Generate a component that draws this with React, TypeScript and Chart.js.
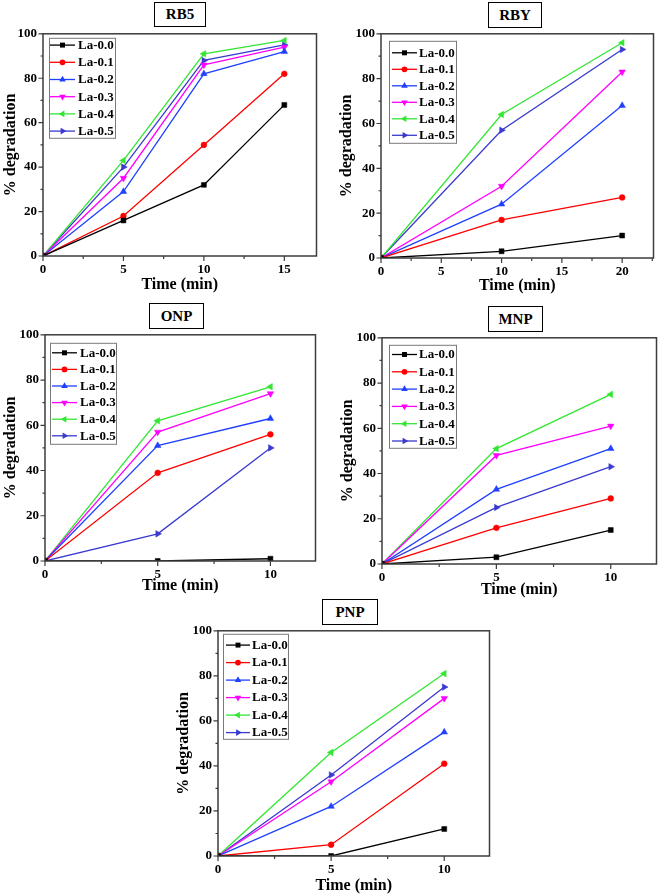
import React, { useEffect, useRef } from 'react';
import { Chart, registerables } from 'chart.js';

Chart.register(...registerables);

const FONT = "'Liberation Serif', 'Times New Roman', serif";

// ---------- data ----------
const seriesNames = ['La-0.0', 'La-0.1', 'La-0.2', 'La-0.3', 'La-0.4', 'La-0.5'];
const yTicks = [0, 20, 40, 60, 80, 100];

// RB5
const rb5Time = [0, 5, 10, 15];
const rb5XTicks = [0, 5, 10, 15];
const rb5La00 = [0, 16, 32, 68];
const rb5La01 = [0, 18, 50, 82];
const rb5La02 = [0, 29, 82, 92];
const rb5La03 = [0, 35, 86, 94];
const rb5La04 = [0, 43, 91, 97];
const rb5La05 = [0, 40, 88, 95];

// RBY
const rbyTime = [0, 10, 20];
const rbyXTicks = [0, 5, 10, 15, 20];
const rbyLa00 = [0, 3, 10];
const rbyLa01 = [0, 17, 27];
const rbyLa02 = [0, 24, 68];
const rbyLa03 = [0, 32, 83];
const rbyLa04 = [0, 64, 96];
const rbyLa05 = [0, 57, 93];

// ONP
const onpTime = [0, 5, 10];
const onpXTicks = [0, 5, 10];
const onpLa00 = [0, 0, 1];
const onpLa01 = [0, 39, 56];
const onpLa02 = [0, 51, 63];
const onpLa03 = [0, 57, 74];
const onpLa04 = [0, 62, 77];
const onpLa05 = [0, 12, 50];

// MNP
const mnpTime = [0, 5, 10];
const mnpXTicks = [0, 5, 10];
const mnpLa00 = [0, 3, 15];
const mnpLa01 = [0, 16, 29];
const mnpLa02 = [0, 33, 51];
const mnpLa03 = [0, 48, 61];
const mnpLa04 = [0, 51, 75];
const mnpLa05 = [0, 25, 43];

// PNP
const pnpTime = [0, 5, 10];
const pnpXTicks = [0, 5, 10];
const pnpLa00 = [0, 0, 12];
const pnpLa01 = [0, 5, 41];
const pnpLa02 = [0, 22, 55];
const pnpLa03 = [0, 33, 70];
const pnpLa04 = [0, 46, 81];
const pnpLa05 = [0, 36, 75];

// ---------- styles ----------
const seriesColors = ['#000000', '#FF0000', '#2040FF', '#FF00FF', '#33E633', '#3A3AD0'];
const seriesMarkers = [
  { style: 'rect', rotation: 0, radius: 3.5 },
  { style: 'circle', rotation: 0, radius: 2.9 },
  { style: 'triangle', rotation: 0, radius: 3.8 },
  { style: 'triangle', rotation: 180, radius: 3.8 },
  { style: 'triangle', rotation: 270, radius: 3.8 },
  { style: 'triangle', rotation: 90, radius: 3.8 },
];
const AXIS_COLOR = '#3c3c3c';

type LegendCfg = { x: number; y: number; w: number; h: number; row0: number; dy: number; l0: number; l1: number; tx: number };
type PanelCfg = {
  key: string;
  title: string;
  titleBox: { x: number; y: number; w: number; h: number };
  area: { L: number; T: number; R: number; B: number };
  yw: number;
  xh: number;
  xMax: number;
  xTicks: number[];
  time: number[];
  series: number[][];
  legend: LegendCfg;
};

const PAD_TOP = 8;
const PAD_RIGHT = 3;

const panels: PanelCfg[] = [
  {
    key: 'rb5', title: 'RB5', titleBox: { x: 154, y: 2, w: 52, h: 25 },
    area: { L: 43, T: 32, R: 318, B: 256 }, yw: 42, xh: 38, xMax: 17,
    xTicks: rb5XTicks, time: rb5Time,
    series: [rb5La00, rb5La01, rb5La02, rb5La03, rb5La04, rb5La05],
    legend: { x: 6, y: 4, w: 66, h: 100, row0: 11.3, dy: 17.2, l0: 7, l1: 32, tx: 35 },
  },
  {
    key: 'rby', title: 'RBY', titleBox: { x: 488, y: 2, w: 54, h: 26 },
    area: { L: 381, T: 32, R: 655, B: 258 }, yw: 44, xh: 37, xMax: 22.6,
    xTicks: rbyXTicks, time: rbyTime,
    series: [rbyLa00, rbyLa01, rbyLa02, rbyLa03, rbyLa04, rbyLa05],
    legend: { x: 8, y: 7, w: 67, h: 102, row0: 19, dy: 16.5, l0: 11, l1: 36, tx: 38 },
  },
  {
    key: 'onp', title: 'ONP', titleBox: { x: 149, y: 303, w: 55, h: 26 },
    area: { L: 45, T: 333, R: 317, B: 561 }, yw: 44, xh: 34, xMax: 12,
    xTicks: onpXTicks, time: onpTime,
    series: [onpLa00, onpLa01, onpLa02, onpLa03, onpLa04, onpLa05],
    legend: { x: 5, y: 8, w: 66, h: 101, row0: 18, dy: 16.6, l0: 7, l1: 32, tx: 35 },
  },
  {
    key: 'mnp', title: 'MNP', titleBox: { x: 488, y: 306, w: 55, h: 26 },
    area: { L: 382, T: 336, R: 658, B: 564 }, yw: 44, xh: 35, xMax: 12,
    xTicks: mnpXTicks, time: mnpTime,
    series: [mnpLa00, mnpLa01, mnpLa02, mnpLa03, mnpLa04, mnpLa05],
    legend: { x: 7, y: 7, w: 67, h: 103, row0: 16.7, dy: 17.3, l0: 10, l1: 35, tx: 37 },
  },
  {
    key: 'pnp', title: 'PNP', titleBox: { x: 322, y: 599, w: 56, h: 26 },
    area: { L: 218, T: 629, R: 491, B: 856 }, yw: 44, xh: 39, xMax: 12,
    xTicks: pnpXTicks, time: pnpTime,
    series: [pnpLa00, pnpLa01, pnpLa02, pnpLa03, pnpLa04, pnpLa05],
    legend: { x: 5, y: 3, w: 65, h: 105, row0: 14.3, dy: 17.5, l0: 8, l1: 32, tx: 34 },
  },
];

function drawMarker(ctx: CanvasRenderingContext2D, style: string, rotationDeg: number, radius: number, x: number, y: number) {
  const rad = (rotationDeg * Math.PI) / 180;
  ctx.beginPath();
  if (style === 'circle') {
    ctx.arc(x, y, radius, 0, Math.PI * 2);
  } else if (style === 'rect') {
    const s = Math.SQRT1_2 * radius;
    ctx.rect(x - s, y - s, 2 * s, 2 * s);
  } else {
    let r = rad;
    const third = (2 * Math.PI) / 3;
    ctx.moveTo(x + Math.sin(r) * radius, y - Math.cos(r) * radius);
    r += third;
    ctx.lineTo(x + Math.sin(r) * radius, y - Math.cos(r) * radius);
    r += third;
    ctx.lineTo(x + Math.sin(r) * radius, y - Math.cos(r) * radius);
    ctx.closePath();
  }
  ctx.fill();
}

function midpoints(ticks: number[], max: number): number[] {
  const out: number[] = [];
  for (let i = 0; i < ticks.length; i++) {
    const step = i < ticks.length - 1 ? ticks[i + 1] - ticks[i] : ticks[i] - ticks[i - 1];
    const m = ticks[i] + step / 2;
    if (m <= max) out.push(m);
  }
  return out;
}

function makeFramePlugin(cfg: PanelCfg) {
  return {
    id: 'frame_' + cfg.key,
    afterDraw(chart: any) {
      const ctx: CanvasRenderingContext2D = chart.ctx;
      const { left, top, right, bottom } = chart.chartArea;
      const xs = chart.scales.x;
      const ys = chart.scales.y;
      ctx.save();
      ctx.strokeStyle = AXIS_COLOR;
      ctx.lineWidth = 1.5;
      ctx.strokeRect(left, top, right - left, bottom - top);
      ctx.lineWidth = 1.2;
      ctx.beginPath();
      cfg.xTicks.forEach((v) => {
        const p = xs.getPixelForValue(v);
        ctx.moveTo(p, bottom);
        ctx.lineTo(p, bottom + 5);
      });
      midpoints(cfg.xTicks, cfg.xMax).forEach((v) => {
        const p = xs.getPixelForValue(v);
        ctx.moveTo(p, bottom);
        ctx.lineTo(p, bottom + 3);
      });
      yTicks.forEach((v) => {
        const p = ys.getPixelForValue(v);
        ctx.moveTo(left, p);
        ctx.lineTo(left - 4.5, p);
      });
      midpoints(yTicks, 100).forEach((v) => {
        const p = ys.getPixelForValue(v);
        ctx.moveTo(left, p);
        ctx.lineTo(left - 2.5, p);
      });
      ctx.stroke();

      // legend
      const lg = cfg.legend;
      const bx = left + lg.x;
      const by = top + lg.y;
      ctx.fillStyle = '#ffffff';
      ctx.fillRect(bx, by, lg.w, lg.h);
      ctx.strokeStyle = '#7a7a7a';
      ctx.lineWidth = 1;
      ctx.strokeRect(bx + 0.5, by + 0.5, lg.w, lg.h);
      ctx.font = `bold 13px ${FONT}`;
      ctx.textBaseline = 'middle';
      ctx.textAlign = 'left';
      chart.data.datasets.forEach((ds: any, i: number) => {
        const ry = top + lg.row0 + i * lg.dy;
        ctx.strokeStyle = seriesColors[i];
        ctx.lineWidth = 1.3;
        ctx.beginPath();
        ctx.moveTo(left + lg.l0, ry);
        ctx.lineTo(left + lg.l1, ry);
        ctx.stroke();
        ctx.fillStyle = seriesColors[i];
        const mk = seriesMarkers[i];
        drawMarker(ctx, mk.style, mk.rotation, mk.radius, left + (lg.l0 + lg.l1) / 2, ry);
        ctx.fillStyle = '#000000';
        ctx.fillText(ds.label, left + lg.tx, ry + 0.5);
      });
      ctx.restore();
    },
  };
}

function Panel({ cfg }: { cfg: PanelCfg }) {
  const ref = useRef<HTMLCanvasElement>(null);
  const cLeft = cfg.area.L - cfg.yw;
  const cTop = cfg.area.T - PAD_TOP;
  const cWidth = cfg.area.R + PAD_RIGHT - cLeft;
  const cHeight = cfg.area.B + cfg.xh - cTop;

  useEffect(() => {
    if (!ref.current) return;
    const datasets = cfg.series.map((vals, i) => ({
      label: seriesNames[i],
      data: cfg.time.map((t, j) => ({ x: t, y: vals[j] })),
      borderColor: seriesColors[i],
      backgroundColor: seriesColors[i],
      pointBackgroundColor: seriesColors[i],
      pointBorderColor: seriesColors[i],
      pointBorderWidth: 0.5,
      pointStyle: seriesMarkers[i].style as any,
      pointRotation: seriesMarkers[i].rotation,
      pointRadius: seriesMarkers[i].radius,
      borderWidth: 1.3,
      tension: 0,
      fill: false,
    }));
    const tickFont = { family: FONT, size: 13, weight: 'bold' as const };
    const titleFont = { family: FONT, size: 16, weight: 'bold' as const };
    const chart = new Chart(ref.current, {
      type: 'line',
      data: { datasets },
      options: {
        animation: false,
        responsive: false,
        devicePixelRatio: 1,
        layout: { padding: { left: 0, top: PAD_TOP, right: PAD_RIGHT, bottom: 0 } },
        plugins: { legend: { display: false }, tooltip: { enabled: false }, title: { display: false } },
        scales: {
          x: {
            type: 'linear',
            position: 'bottom',
            min: 0,
            max: cfg.xMax,
            afterBuildTicks: (s: any) => { s.ticks = cfg.xTicks.map((v) => ({ value: v })); },
            afterFit: (s: any) => { s.height = cfg.xh; },
            grid: { display: false, drawTicks: true, tickLength: 5 },
            border: { display: false },
            ticks: { font: tickFont, color: '#000', padding: 1, maxRotation: 0, autoSkip: false, callback: (v: any) => String(v) },
            title: { display: true, text: 'Time (min)', font: titleFont, color: '#000', padding: { top: 0, bottom: 0 } },
          },
          y: {
            type: 'linear',
            position: 'left',
            min: 0,
            max: 100,
            afterBuildTicks: (s: any) => { s.ticks = yTicks.map((v) => ({ value: v })); },
            afterFit: (s: any) => { s.width = cfg.yw; },
            grid: { display: false, drawTicks: true, tickLength: 4 },
            border: { display: false },
            ticks: { font: tickFont, color: '#000', padding: 2, autoSkip: false, callback: (v: any) => String(v) },
            title: { display: true, text: '% degradation', font: titleFont, color: '#000', padding: { top: 0, bottom: 0 } },
          },
        },
      },
      plugins: [makeFramePlugin(cfg)],
    });
    return () => chart.destroy();
  }, []);

  return (
    <>
      <canvas
        ref={ref}
        width={cWidth}
        height={cHeight}
        style={{ position: 'absolute', left: cLeft, top: cTop, width: cWidth, height: cHeight }}
      />
      <div
        style={{
          position: 'absolute',
          left: cfg.titleBox.x,
          top: cfg.titleBox.y,
          width: cfg.titleBox.w,
          height: cfg.titleBox.h,
          boxSizing: 'border-box',
          border: '1.5px solid #000',
          display: 'flex',
          alignItems: 'center',
          justifyContent: 'center',
          fontFamily: FONT,
          fontWeight: 'bold',
          fontSize: 15,
          color: '#000',
          background: '#fff',
        }}
      >
        {cfg.title}
      </div>
    </>
  );
}

export default function App() {
  return (
    <div style={{ position: 'absolute', left: 0, top: 0, width: 661, height: 894, background: '#ffffff', overflow: 'hidden' }}>
      {panels.map((p) => (
        <Panel key={p.key} cfg={p} />
      ))}
    </div>
  );
}
